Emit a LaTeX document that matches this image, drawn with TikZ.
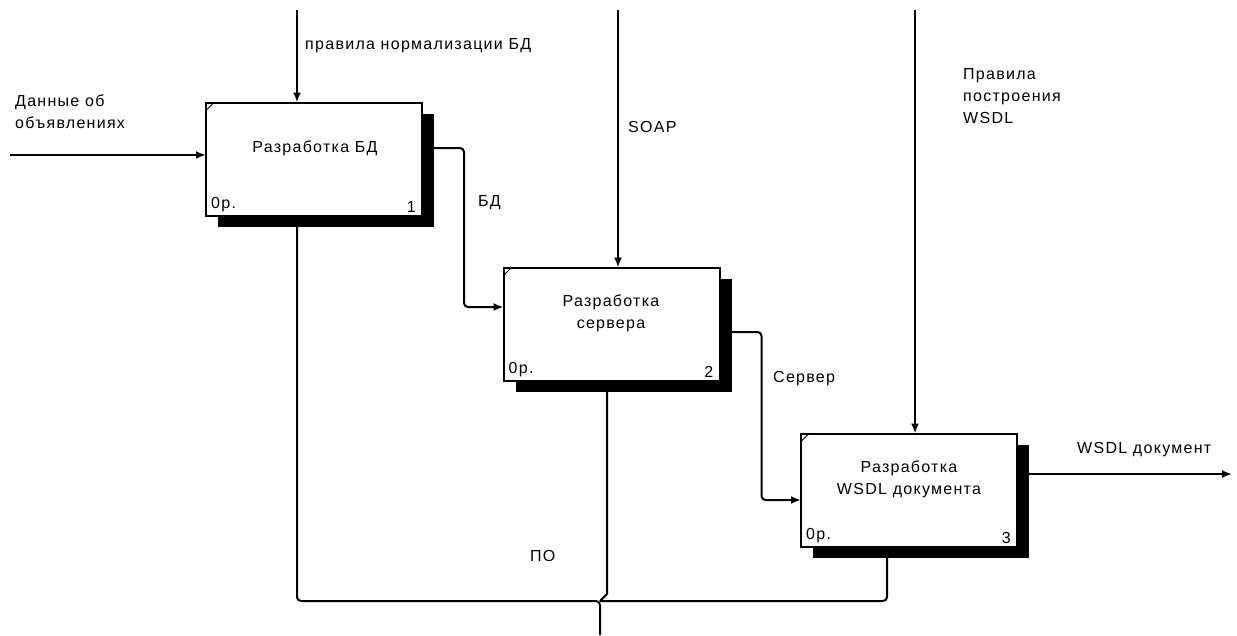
\documentclass[tikz,border=0pt]{standalone}
\usepackage{fontspec}
\setmainfont{Liberation Sans}[LetterSpace=8]
\usetikzlibrary{arrows.meta,shadows}
\begin{document}
\begin{tikzpicture}[x=1pt,y=-1pt,
  font=\fontsize{16}{22}\selectfont,
  proc/.style={draw, line width=2pt, fill=white, minimum width=216pt, minimum height=113pt,
    inner sep=0pt, outer sep=0pt,
    drop shadow={shadow xshift=12pt, shadow yshift=-11pt, fill=black, opacity=1}},
  arr/.style={line width=2pt, -{Latex[length=10pt,width=8pt]}},
  lbl/.style={anchor=west, inner sep=0pt, align=left},
  ttl/.style={inner sep=0pt, align=center},
  cost/.style={inner sep=0pt}]
\useasboundingbox (0,0) rectangle (1237,635);

% boxes
\node[proc] (b1) at (314,159) {};
\node[proc] (b2) at (611.5,324) {};
\node[proc] (b3) at (909,490) {};

% corner ticks
\foreach \b in {b1,b2,b3}{
  \draw[line width=1pt] ([yshift=-8pt]\b.north west) -- ([xshift=8pt]\b.north west);
}

% box texts
\node[ttl] (t1) at (315,148) {Разработка БД};
\node[ttl] (t2) at (611,313) {Разработка\\сервера};
\node[ttl] (t3) at (909,479) {Разработка\\WSDL документа};
\node[cost, anchor=south west] (c1l) at ([xshift=5pt,yshift=3pt]b1.south west) {0р.};
\node[cost, anchor=south east] (c1r) at ([xshift=-6pt,yshift=3pt]b1.south east) {1};
\node[cost, anchor=south west] (c2l) at ([xshift=5pt,yshift=3pt]b2.south west) {0р.};
\node[cost, anchor=south east] (c2r) at ([xshift=-6pt,yshift=3pt]b2.south east) {2};
\node[cost, anchor=south west] (c3l) at ([xshift=5pt,yshift=3pt]b3.south west) {0р.};
\node[cost, anchor=south east] (c3r) at ([xshift=-6pt,yshift=3pt]b3.south east) {3};

% free ends
\coordinate (in1) at (10,155);
\coordinate (ct1) at (297,10);
\coordinate (ct2) at (618,10);
\coordinate (ct3) at (915,10);
\coordinate (out3) at (1232,474);
\coordinate (mb) at (600,635);
\coordinate (mj) at (600,601);
\coordinate (mk) at (607,594);

% input, controls
\draw[arr] (in1) -- (in1 -| b1.west);
\draw[arr] (ct1) -- (ct1 |- b1.north);
\draw[arr] (ct2) -- (ct2 |- b2.north);
\draw[arr] (ct3) -- (ct3 |- b3.north);

% flows between boxes
\draw[arr, rounded corners=4pt] ([yshift=11pt]b1.east) -- ++(42,0) |- ([yshift=17pt]b2.west);
\draw[arr, rounded corners=4pt] ([yshift=-8pt]b2.east) -- ++(42,0) |- ([yshift=-10pt]b3.west);
\draw[arr] ([yshift=16pt]b3.east) -- (out3);

% mechanism ПО
\draw[arr, rounded corners=4pt] (mb) -- (mj) -| ([xshift=-17pt]b1.south);
\draw[arr, rounded corners=4pt] (mj) -| ([xshift=-22pt]b3.south);
\draw[arr] (mj) -- (mk) -- (mk |- b2.south);

% labels
\node[lbl] (l1) at (305,46) {правила нормализации БД};
\node[lbl] (l2) at (628,127) {SOAP};
\node[lbl] (l3) at (963,96) {Правила\\построения\\WSDL};
\node[lbl] (l4) at (15,112) {Данные об\\объявлениях};
\node[lbl] (l5) at (478,203) {БД};
\node[lbl] (l6) at (773,379) {Сервер};
\node[lbl] (l7) at (1077,450) {WSDL документ};
\node[lbl] (l8) at (530,556) {ПО};
\end{tikzpicture}
\end{document}
